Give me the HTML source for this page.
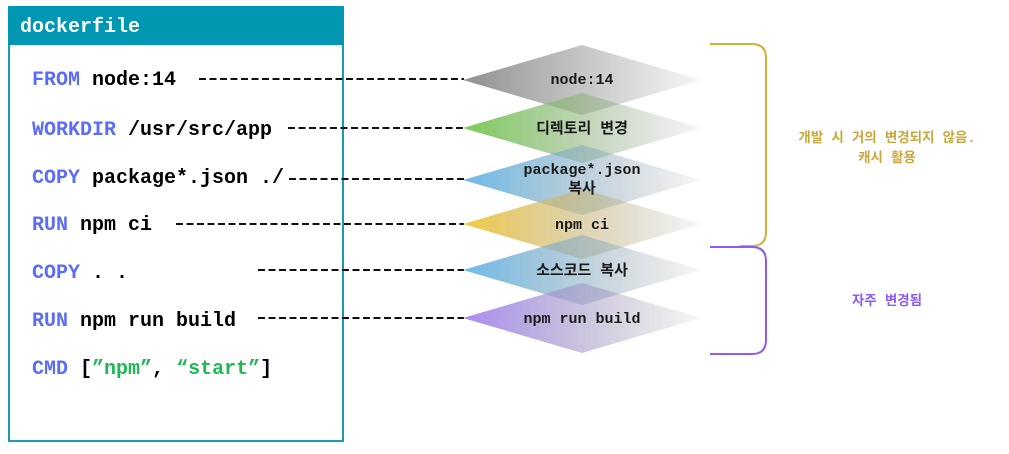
<!DOCTYPE html>
<html><head><meta charset="utf-8"><style>
html,body{margin:0;padding:0;background:#fff;}
svg{display:block;}
.c{font-family:"Liberation Mono","Noto Sans CJK KR",monospace;font-weight:bold;font-size:20px;}
.k{fill:#5b6cf5;}
.g{fill:#1db954;}
.d{font-family:"Liberation Mono","Noto Sans CJK KR",monospace;font-weight:bold;font-size:15px;fill:#1a1a1a;}
.n{font-family:"Liberation Mono","Noto Sans CJK KR",monospace;font-weight:bold;font-size:13.5px;}
</style></head><body>
<svg width="1009" height="454" viewBox="0 0 1009 454" xmlns="http://www.w3.org/2000/svg">
<defs>
<linearGradient id="g1" x1="0" x2="1"><stop offset="0" stop-color="#858585"/><stop offset="1" stop-color="#8a8a8a" stop-opacity="0.08"/></linearGradient>
<linearGradient id="g2" x1="0" x2="1"><stop offset="0" stop-color="#6cc644"/><stop offset="1" stop-color="#8a8a8a" stop-opacity="0.08"/></linearGradient>
<linearGradient id="g3" x1="0" x2="1"><stop offset="0" stop-color="#5cb3e6"/><stop offset="1" stop-color="#8a8a8a" stop-opacity="0.08"/></linearGradient>
<linearGradient id="g4" x1="0" x2="1"><stop offset="0" stop-color="#f2c531"/><stop offset="1" stop-color="#8a8a8a" stop-opacity="0.08"/></linearGradient>
<linearGradient id="g5" x1="0" x2="1"><stop offset="0" stop-color="#5cb3e6"/><stop offset="1" stop-color="#8a8a8a" stop-opacity="0.08"/></linearGradient>
<linearGradient id="g6" x1="0" x2="1"><stop offset="0" stop-color="#a07ff0"/><stop offset="1" stop-color="#8a8a8a" stop-opacity="0.08"/></linearGradient>
</defs>
<rect x="9" y="7" width="334" height="434" fill="#fff" stroke="#1a9bb0" stroke-width="2"/>
<rect x="8" y="6" width="336" height="39" fill="#0097b2"/>
<text x="20" y="32" class="c" fill="#fff">dockerfile</text>
<text x="32" y="85" class="c"><tspan class="k">FROM</tspan> node:14</text>
<text x="32" y="135" class="c"><tspan class="k">WORKDIR</tspan> /usr/src/app</text>
<text x="32" y="183" class="c"><tspan class="k">COPY</tspan> package*.json ./</text>
<text x="32" y="230" class="c"><tspan class="k">RUN</tspan> npm ci</text>
<text x="32" y="278" class="c"><tspan class="k">COPY</tspan> . .</text>
<text x="32" y="326" class="c"><tspan class="k">RUN</tspan> npm run build</text>
<text x="32" y="374" class="c"><tspan class="k">CMD</tspan> [<tspan class="g">”npm”</tspan>, <tspan class="g">“start”</tspan>]</text>
<g stroke="#111" stroke-width="2" stroke-dasharray="7,3.5">
<line x1="199" y1="79" x2="464" y2="79"/>
<line x1="288" y1="128" x2="464" y2="128"/>
<line x1="289" y1="179" x2="464" y2="179"/>
<line x1="176" y1="224" x2="464" y2="224"/>
<line x1="258" y1="270" x2="464" y2="270"/>
<line x1="258" y1="318" x2="464" y2="318"/>
</g>
<g opacity="0.9">
<polygon points="463,80 582,45 701,80 582,115" fill="url(#g1)"/>
<polygon points="463,128 582,93 701,128 582,163" fill="url(#g2)"/>
<polygon points="463,180 582,145 701,180 582,215" fill="url(#g3)"/>
<polygon points="463,224 582,189 701,224 582,259" fill="url(#g4)"/>
<polygon points="463,270 582,235 701,270 582,305" fill="url(#g5)"/>
<polygon points="463,318 582,283 701,318 582,353" fill="url(#g6)"/>
</g>
<text x="582" y="84" class="d" text-anchor="middle">node:14</text>
<text x="582" y="133" class="d" text-anchor="middle">디렉토리 변경</text>
<text x="582" y="174" class="d" text-anchor="middle">package*.json</text>
<text x="582" y="193" class="d" text-anchor="middle">복사</text>
<text x="582" y="229" class="d" text-anchor="middle">npm ci</text>
<text x="582" y="275" class="d" text-anchor="middle">소스코드 복사</text>
<text x="582" y="323" class="d" text-anchor="middle">npm run build</text>
<path d="M710,44 H752 Q766,44 766,58 V232 Q766,246 752,246 H740" fill="none" stroke="#d4af37" stroke-width="2"/>
<path d="M710,247 H752 Q766,247 766,261 V340 Q766,354 752,354 H710" fill="none" stroke="#8b5cf6" stroke-width="2"/>
<text x="887" y="142" class="n" fill="#c9a83b" text-anchor="middle">개발 시 거의 변경되지 않음.</text>
<text x="887" y="162" class="n" fill="#c9a83b" text-anchor="middle">캐시 활용</text>
<text x="887" y="305" class="n" fill="#8b5cf6" text-anchor="middle">자주 변경됨</text>
</svg>
</body></html>
